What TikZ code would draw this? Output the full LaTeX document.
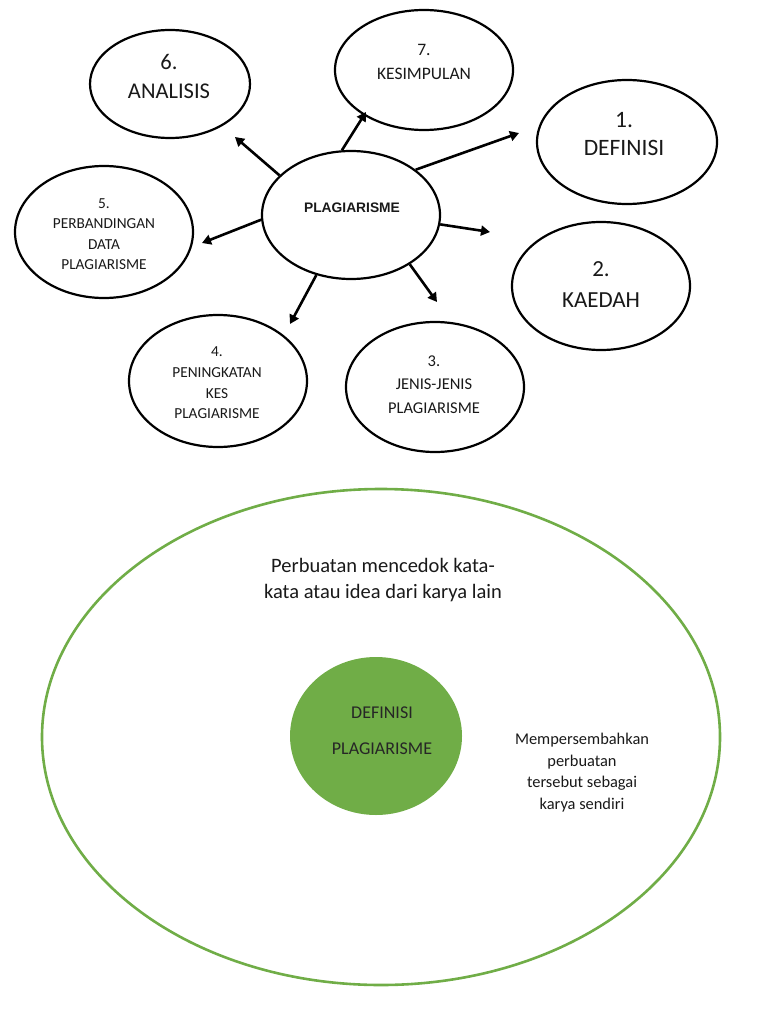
\documentclass[tikz,border=0pt]{standalone}
\usepackage{fontspec}
\setmainfont{Carlito}
\newfontfamily\arialf{Liberation Sans}
\usetikzlibrary{arrows.meta,shapes.geometric}
\definecolor{lgreen}{HTML}{70AD47}
\begin{document}
\begin{tikzpicture}[x=1pt,y=-1pt,
  bub/.style={draw=black,line width=2.2pt,ellipse,inner sep=0pt},
  arr/.style={line width=2.6pt,-{Triangle[length=9pt,width=10pt]}},
  every node/.style={align=center,text=black!90}]
\useasboundingbox (0,0) rectangle (768,1024);
\node[bub,minimum width=178pt,minimum height=128pt] (c) at (351,215) {};
\node[bub,minimum width=160pt,minimum height=108pt] (b6) at (170,84) {};
\node[bub,minimum width=178pt,minimum height=120pt] (b7) at (424,70) {};
\node[bub,minimum width=180pt,minimum height=124pt] (b1) at (627,142) {};
\node[bub,minimum width=178pt,minimum height=128pt] (b2) at (601,286) {};
\node[bub,minimum width=178pt,minimum height=130pt] (b3) at (435,387) {};
\node[bub,minimum width=178pt,minimum height=132pt] (b4) at (218,381) {};
\node[bub,minimum width=178pt,minimum height=132pt] (b5) at (104,232) {};
\node[font=\arialf\bfseries\fontsize{13.8}{16}\selectfont] (ct) at (352,208) {PLAGIARISME};
\node[font=\fontsize{22.5}{29}\selectfont] (n6) at (169,76.5) {6.\\ANALISIS};
\node[font=\fontsize{17.5}{24}\selectfont] (n7) at (424,62) {7.\\KESIMPULAN};
\node[font=\fontsize{23.5}{28}\selectfont] (n1) at (624,134) {1.\\DEFINISI};
\node[font=\fontsize{23}{31}\selectfont] (n2) at (601,284.5) {2.\\KAEDAH};
\node[font=\fontsize{16.5}{23.5}\selectfont] (n3) at (434,384.5) {3.\\JENIS-JENIS\\PLAGIARISME};
\node[font=\fontsize{15.3}{20.7}\selectfont] (n4) at (217,383) {4.\\PENINGKATAN\\KES\\PLAGIARISME};
\node[font=\fontsize{15.3}{20.3}\selectfont] (n5) at (104,234) {5.\\PERBANDINGAN\\DATA\\PLAGIARISME};
\coordinate (e6) at (235,137);
\coordinate (e7) at (366,112);
\coordinate (e1) at (519,133);
\coordinate (e2) at (490,232);
\coordinate (e3) at (437,302);
\coordinate (e4) at (290,324);
\coordinate (e5) at (202,243);
\draw[arr] (c.151) -- (e6);
\draw[arr] (c.98) -- (e7);
\draw[arr] (c.35) -- (e1);
\draw[arr] (c.-6) -- (e2);
\draw[arr] (c.-40) -- (e3);
\draw[arr] (c.-120) -- (e4);
\draw[arr] (c.183) -- (e5);
% bottom
\node[draw=lgreen,line width=2.6pt,ellipse,minimum width=678pt,minimum height=496pt,inner sep=0pt] (big) at (381,737) {};
\node[fill=lgreen,ellipse,minimum width=172pt,minimum height=158pt,inner sep=0pt] (g) at (376,736) {};
\node[font=\fontsize{18}{36}\selectfont,text=black!85] (d) at (382,731) {DEFINISI\\PLAGIARISME};
\node[font=\fontsize{20.5}{26}\selectfont] (t1) at (383,580) {Perbuatan mencedok kata-\\kata atau idea dari karya lain};
\node[font=\fontsize{16.4}{21.7}\selectfont] (t2) at (582,772.5) {Mempersembahkan\\perbuatan\\tersebut sebagai\\karya sendiri};
\end{tikzpicture}
\end{document}
